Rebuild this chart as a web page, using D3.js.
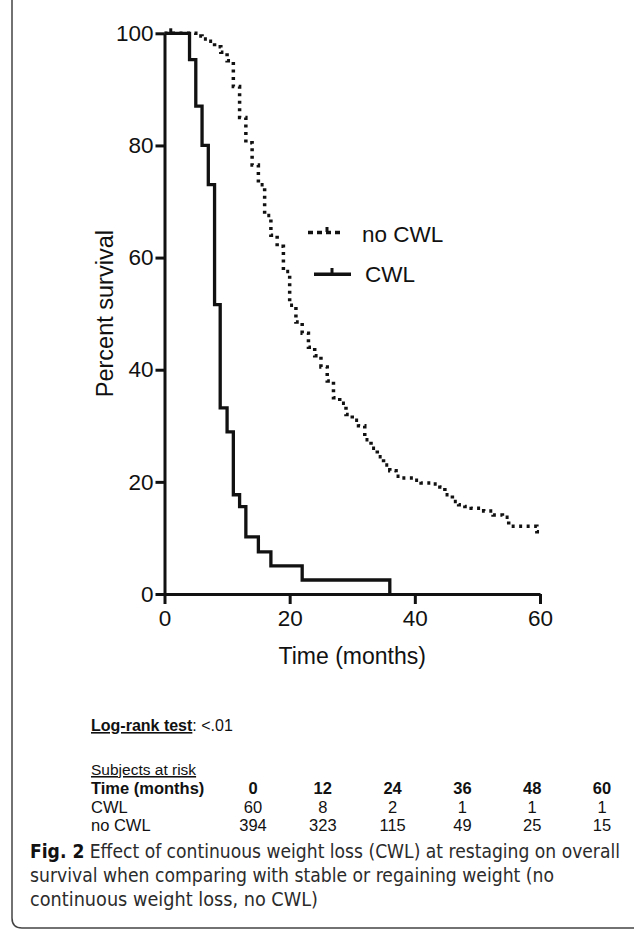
<!DOCTYPE html>
<html>
<head>
<meta charset="utf-8">
<script src="https://cdn.jsdelivr.net/npm/d3@7"></script>
<style>
  html, body { margin: 0; padding: 0; background: #fff; }
  svg { display: block; font-family: "Liberation Sans", Arial, sans-serif; }
  .axis text { font-size: 22.5px; fill: #111; }
  .axis path, .axis line { stroke: #111; stroke-width: 3; }
</style>
</head>
<body>
<div id="chart"></div>
<script>
// Kaplan-Meier steps: time (months) and survival (%) after each step
const CWL_TIME = [0, 4, 5, 6, 7, 8, 8.9, 10, 11, 12, 13, 15, 17, 22, 36];
const CWL_SURV = [100, 95.3, 87, 80, 73, 51.6, 33.2, 28.9, 17.7, 15.6, 10.2, 7.5, 5, 2.5, 0];
const CWL_CENSOR = [1];

const NOCWL_TIME = [0, 5, 6, 7, 8, 9, 10, 11, 12, 13, 14, 15, 16, 17, 18, 19, 20, 21, 22, 23, 24, 25, 26, 27, 28, 29, 30, 31, 32, 33, 34, 35, 36, 37, 38, 40, 41, 43, 44, 44.8, 46, 47, 48, 49, 51, 52.5, 54, 55, 59.5, 60];
const NOCWL_SURV = [100, 99.5, 99, 98.6, 97.6, 96.6, 95.1, 90.5, 85, 80.5, 76.5, 73, 67.5, 64, 62, 57.5, 51.5, 48.5, 46.5, 44, 42.5, 40.5, 38, 35, 34, 32, 31, 30, 27.5, 26, 24.5, 23, 22, 21, 20.7, 20.3, 19.8, 19.6, 19.1, 17.7, 16.5, 15.9, 15.6, 15.3, 14.8, 14.1, 13.7, 12.1, 11.1, 11.1];

const X_TICKS = [0, 20, 40, 60];
const Y_TICKS = [0, 20, 40, 60, 80, 100];

// subjects at risk table
const RISK_TIMES = [0, 12, 24, 36, 48, 60];
const RISK_CWL = [60, 8, 2, 1, 1, 1];
const RISK_NOCWL = [394, 323, 115, 49, 25, 15];

const W = 634, H = 936;
const svg = d3.select('#chart').append('svg')
  .attr('width', W).attr('height', H)
  .attr('viewBox', `0 0 ${W} ${H}`);

// frame around the figure
svg.append('path')
  .attr('d', `M12,0 V918 Q12,928 22,928 H634`)
  .attr('fill', 'none')
  .attr('stroke', '#444')
  .attr('stroke-width', 1.5);

const x = d3.scaleLinear().domain([0, 60]).range([164.5, 540]);
const y = d3.scaleLinear().domain([0, 100]).range([594, 33.3]);

svg.append('g')
  .attr('class', 'axis')
  .attr('transform', `translate(0,${y(0)})`)
  .call(d3.axisBottom(x).tickValues(X_TICKS).tickSize(10).tickSizeOuter(0).tickPadding(6));

svg.append('g')
  .attr('class', 'axis')
  .attr('transform', `translate(${x(0)},0)`)
  .call(d3.axisLeft(y).tickValues(Y_TICKS).tickSize(9).tickSizeOuter(0).tickPadding(2));

svg.selectAll('.axis').attr('font-family', null).attr('font-size', null);

svg.append('text')
  .attr('transform', `translate(113,${(y(0) + y(100)) / 2}) rotate(-90)`)
  .attr('text-anchor', 'middle')
  .attr('font-size', '23.5px')
  .attr('fill', '#111')
  .text('Percent survival');

svg.append('text')
  .attr('x', (x(0) + x(60)) / 2).attr('y', 664)
  .attr('text-anchor', 'middle')
  .attr('font-size', '23px')
  .attr('fill', '#111')
  .text('Time (months)');

const step = d3.line()
  .x(d => x(d[0]))
  .y(d => y(d[1]))
  .curve(d3.curveStepAfter);

const noData = NOCWL_TIME.map((t, i) => [t, NOCWL_SURV[i]]);
const cwlData = CWL_TIME.map((t, i) => [t, CWL_SURV[i]]);

svg.append('path')
  .datum(noData)
  .attr('d', step)
  .attr('fill', 'none')
  .attr('stroke', '#111')
  .attr('stroke-width', 3.5)
  .attr('stroke-dasharray', '3,4.5');

svg.append('path')
  .datum(cwlData)
  .attr('d', step)
  .attr('fill', 'none')
  .attr('stroke', '#111')
  .attr('stroke-width', 3.3);

svg.selectAll('.censor')
  .data(CWL_CENSOR)
  .join('line')
  .attr('x1', d => x(d)).attr('x2', d => x(d))
  .attr('y1', y(100)).attr('y2', y(100) - 5)
  .attr('stroke', '#111')
  .attr('stroke-width', 3);

// legend
const lg = svg.append('g');
lg.append('line')
  .attr('x1', 308).attr('x2', 341).attr('y1', 232.5).attr('y2', 232.5)
  .attr('stroke', '#111').attr('stroke-width', 3.5)
  .attr('stroke-dasharray', '5,4');
lg.append('line')
  .attr('x1', 327).attr('x2', 327).attr('y1', 232).attr('y2', 227)
  .attr('stroke', '#111').attr('stroke-width', 3);
lg.append('text')
  .attr('x', 362).attr('y', 241.5)
  .attr('font-size', '22.5px').attr('fill', '#111')
  .text('no CWL');
lg.append('line')
  .attr('x1', 314).attr('x2', 351).attr('y1', 274.3).attr('y2', 274.3)
  .attr('stroke', '#111').attr('stroke-width', 3.5);
lg.append('line')
  .attr('x1', 332).attr('x2', 332).attr('y1', 274).attr('y2', 268)
  .attr('stroke', '#111').attr('stroke-width', 3);
lg.append('text')
  .attr('x', 365).attr('y', 281.5)
  .attr('font-size', '22.5px').attr('fill', '#111')
  .text('CWL');

// log-rank line
const lr = svg.append('text')
  .attr('x', 91).attr('y', 731)
  .attr('font-size', '16px').attr('fill', '#111');
lr.append('tspan')
  .attr('font-weight', 'bold')
  .style('text-decoration', 'underline')
  .text('Log-rank test');
lr.append('tspan').text(': <.01');

// subjects at risk
svg.append('text')
  .attr('x', 91).attr('y', 775)
  .attr('font-size', '15.5px').attr('fill', '#111')
  .style('text-decoration', 'underline')
  .text('Subjects at risk');

const colX = d3.scalePoint().domain(RISK_TIMES).range([253, 602]);

const rows = [
  { label: 'Time (months)', vals: RISK_TIMES, bold: true, yy: 794 },
  { label: 'CWL', vals: RISK_CWL, bold: false, yy: 812.5 },
  { label: 'no CWL', vals: RISK_NOCWL, bold: false, yy: 831 },
];
rows.forEach(r => {
  const g = svg.append('g')
    .attr('font-size', '16.5px')
    .attr('fill', '#111')
    .attr('font-weight', r.bold ? 'bold' : 'normal');
  g.append('text').attr('x', 91).attr('y', r.yy).text(r.label);
  g.selectAll('.v')
    .data(r.vals)
    .join('text')
    .attr('x', (d, i) => colX(RISK_TIMES[i]))
    .attr('y', r.yy)
    .attr('text-anchor', 'middle')
    .text(d => d);
});

// caption
const capFont = '"Liberation Sans Narrow", "DejaVu Sans Condensed", "Open Sans", sans-serif';
const cap = [
  { parts: [['Fig. 2', true], [' Effect of continuous weight loss (CWL) at restaging on overall', false]], yy: 858, w: 590 },
  { parts: [['survival when comparing with stable or regaining weight (no', false]], yy: 882, w: 524 },
  { parts: [['continuous weight loss, no CWL)', false]], yy: 906, w: 288 },
];
cap.forEach(c => {
  const t = svg.append('text')
    .attr('x', 30).attr('y', c.yy)
    .attr('font-family', capFont)
    .attr('font-size', '19px')
    .attr('fill', '#2b2b2b')
    .attr('textLength', c.w)
    .attr('lengthAdjust', 'spacingAndGlyphs');
  c.parts.forEach(p => {
    t.append('tspan')
      .attr('font-weight', p[1] ? 'bold' : 'normal')
      .attr('fill', p[1] ? '#111' : null)
      .text(p[0]);
  });
});
</script>
</body>
</html>
